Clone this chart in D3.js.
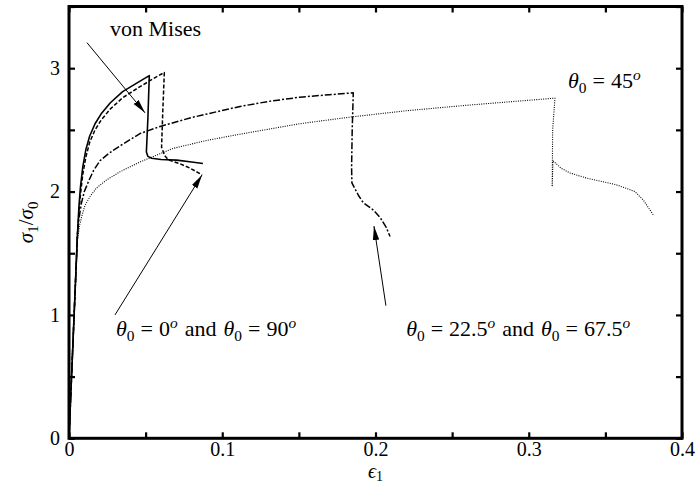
<!DOCTYPE html>
<html>
<head>
<meta charset="utf-8">
<script src="https://cdn.jsdelivr.net/npm/d3@7"></script>
<style>
  body { margin: 0; background: #fff; }
  svg text { font-family: "Liberation Serif", "Times New Roman", Tinos, "Nimbus Roman", "DejaVu Serif", "Noto Serif", serif; fill: #000; }
</style>
</head>
<body>
<svg id="chart"></svg>
<script>
// strain / normalised stress pairs
const vonMises = [[0,0],[0.0055,1.65],[0.0065,1.88],[0.0075,2.04],[0.009,2.2],[0.011,2.34],[0.0135,2.45],
  [0.017,2.55],[0.021,2.63],[0.027,2.72],[0.035,2.81],[0.045,2.885],[0.0524,2.94],[0.0515,2.6],
  [0.0505,2.32],[0.0515,2.285],[0.054,2.27],[0.060,2.26],[0.0703,2.255],[0.080,2.24],[0.0874,2.228]];

const theta0 = [[0,0],[0.0055,1.65],[0.0065,1.84],[0.0075,1.98],[0.009,2.14],[0.011,2.28],[0.0135,2.4],
  [0.017,2.5],[0.021,2.58],[0.027,2.67],[0.035,2.76],[0.045,2.84],[0.055,2.915],[0.0622,2.965],
  [0.0612,2.65],[0.0604,2.36],[0.0625,2.29],[0.0648,2.257],[0.0724,2.225],[0.079,2.19],[0.0868,2.135]];

const theta22 = [[0,0],[0.0055,1.65],[0.0065,1.78],[0.008,1.9],[0.010,2.0],[0.013,2.09],[0.016,2.17],
  [0.0202,2.25],[0.026,2.31],[0.0333,2.37],[0.0463,2.47],[0.06,2.53],[0.08,2.6],[0.1116,2.69],
  [0.13,2.73],[0.1507,2.765],[0.17,2.785],[0.1855,2.80],[0.1848,2.5],[0.1844,2.2],[0.1846,2.07],
  [0.1888,1.97],[0.192,1.91],[0.1986,1.85],[0.203,1.79],[0.207,1.71],[0.2095,1.635]];

const theta45 = [[0,0],[0.0055,1.6],[0.0068,1.72],[0.0083,1.8],[0.0105,1.89],[0.0137,1.96],[0.018,2.03],
  [0.0246,2.095],[0.0333,2.16],[0.0463,2.24],[0.068,2.35],[0.09,2.415],[0.1116,2.465],[0.1507,2.55],
  [0.1844,2.605],[0.22,2.655],[0.26,2.70],[0.29,2.73],[0.3171,2.757],[0.3156,2.5],[0.3153,2.04],
  [0.3158,2.25],[0.321,2.19],[0.327,2.15],[0.3378,2.109],[0.3574,2.054],[0.3693,2.0],[0.3748,1.93],
  [0.3813,1.81]];

const xTicks = d3.range(0, 0.4001, 0.05);
const yTicks = d3.range(0, 3.5001, 0.5);
const xLabels = [0, 0.1, 0.2, 0.3, 0.4];
const yLabels = [0, 1, 2, 3];

// annotation arrows: [tail, tip] in data units
const arrows = [
  [[0.0117, 3.207], [0.0496, 2.638]],
  [[0.030, 1.0], [0.0868, 2.135]],
  [[0.2068, 1.075], [0.199, 1.72]]
];

const width = 695, height = 483;
const margin = { top: 6.5, right: 13, bottom: 44.7, left: 69 };

const svg = d3.select("#chart").attr("width", width).attr("height", height);

const x = d3.scaleLinear().domain([0, 0.4]).range([margin.left, width - margin.right]);
const y = d3.scaleLinear().domain([0, 3.5]).range([height - margin.bottom, margin.top]);

const fmtX = d => xLabels.some(v => Math.abs(v - d) < 1e-9) ? String(+d.toFixed(1)) : "";
const fmtY = d => yLabels.some(v => Math.abs(v - d) < 1e-9) ? String(Math.round(d)) : "";

function styleAxis(g) {
  g.select(".domain").remove();
  g.attr("font-family", null);
  g.selectAll(".tick line").attr("stroke", "#000").attr("stroke-width", 2.2);
  g.selectAll(".tick text").attr("font-size", 20).attr("fill", "#000");
}

svg.append("g")
  .attr("transform", `translate(0,${y(0)})`)
  .call(d3.axisBottom(x).tickValues(xTicks).tickSizeInner(-6).tickSizeOuter(0).tickPadding(3).tickFormat(fmtX))
  .call(styleAxis);

svg.append("g")
  .attr("transform", `translate(0,${y(3.5)})`)
  .call(d3.axisTop(x).tickValues(xTicks).tickSizeInner(-6).tickSizeOuter(0).tickFormat(""))
  .call(styleAxis);

svg.append("g")
  .attr("transform", `translate(${x(0)},0)`)
  .call(d3.axisLeft(y).tickValues(yTicks).tickSizeInner(-6).tickSizeOuter(0).tickPadding(9).tickFormat(fmtY))
  .call(styleAxis);

svg.append("g")
  .attr("transform", `translate(${x(0.4)},0)`)
  .call(d3.axisRight(y).tickValues(yTicks).tickSizeInner(-6).tickSizeOuter(0).tickFormat(""))
  .call(styleAxis);

// frame
svg.append("rect")
  .attr("x", x(0)).attr("y", y(3.5))
  .attr("width", x(0.4) - x(0)).attr("height", y(0) - y(3.5))
  .attr("fill", "none").attr("stroke", "#000").attr("stroke-width", 3);

// curves
const line = d3.line().x(d => x(d[0])).y(d => y(d[1]));
const series = [
  { data: theta45, dash: "1,1.3", w: 1.1 },
  { data: theta22, dash: "7,2,2,2", w: 1.5 },
  { data: theta0, dash: "4,2", w: 1.5 },
  { data: vonMises, dash: null, w: 1.6 }
];
svg.selectAll("path.curve")
  .data(series)
  .enter()
  .append("path")
  .attr("class", "curve")
  .attr("d", d => line(d.data))
  .attr("fill", "none")
  .attr("stroke", "#000")
  .attr("stroke-width", d => d.w)
  .attr("stroke-dasharray", d => d.dash)
  .attr("stroke-linejoin", "round");

// arrows
svg.append("defs").append("marker")
  .attr("id", "head")
  .attr("markerUnits", "userSpaceOnUse")
  .attr("viewBox", "0 -4 14 8")
  .attr("refX", 14).attr("refY", 0)
  .attr("markerWidth", 14).attr("markerHeight", 8)
  .attr("orient", "auto")
  .append("path")
  .attr("d", "M0,-3.2L14,0L0,3.2Z")
  .attr("fill", "#000");

svg.selectAll("line.arrow")
  .data(arrows)
  .enter()
  .append("line")
  .attr("class", "arrow")
  .attr("x1", d => x(d[0][0])).attr("y1", d => y(d[0][1]))
  .attr("x2", d => x(d[1][0])).attr("y2", d => y(d[1][1]))
  .attr("stroke", "#000").attr("stroke-width", 1)
  .attr("marker-end", "url(#head)");

// labels
const fs = 22;
function theta(t, value, lead) {
  t.append("tspan").attr("font-style", "italic").attr("dx", lead || 0).text("θ");
  t.append("tspan").attr("font-size", fs * 0.7).attr("dy", 5).text("0");
  t.append("tspan").attr("dy", -5).attr("dx", 6).text("=");
  t.append("tspan").attr("dx", 6).text(value);
  t.append("tspan").attr("font-size", fs * 0.7).attr("font-style", "italic").attr("dy", -8).text("o");
}

svg.append("text")
  .attr("x", x(0.0268)).attr("y", y(3.26))
  .attr("font-size", 22)
  .text("von Mises");

const t45 = svg.append("text").attr("x", x(0.3256)).attr("y", y(2.84)).attr("font-size", fs);
theta(t45, "45");

const t0 = svg.append("text").attr("x", x(0.0307)).attr("y", y(0.83)).attr("font-size", fs);
theta(t0, "0");
t0.append("tspan").attr("dx", 7).attr("dy", 8).text("and");
theta(t0, "90", 7);

const t22 = svg.append("text").attr("x", x(0.22)).attr("y", y(0.83)).attr("font-size", fs);
theta(t22, "22.5");
t22.append("tspan").attr("dx", 7).attr("dy", 8).text("and");
theta(t22, "67.5", 7);

// axis titles
const xt = svg.append("text")
  .attr("x", x(0.2)).attr("y", 478)
  .attr("text-anchor", "middle").attr("font-size", 20);
xt.append("tspan").attr("font-style", "italic").text("ϵ");
xt.append("tspan").attr("font-size", 14).attr("dy", 3).text("1");

const yt = svg.append("text")
  .attr("transform", `translate(33,${y(1.75)}) rotate(-90)`)
  .attr("text-anchor", "middle").attr("font-size", 21);
yt.append("tspan").attr("font-style", "italic").text("σ");
yt.append("tspan").attr("font-size", 15).attr("dy", 5).text("1");
yt.append("tspan").attr("dy", -5).text("/");
yt.append("tspan").attr("font-style", "italic").text("σ");
yt.append("tspan").attr("font-size", 15).attr("dy", 5).text("0");
</script>
</body>
</html>
